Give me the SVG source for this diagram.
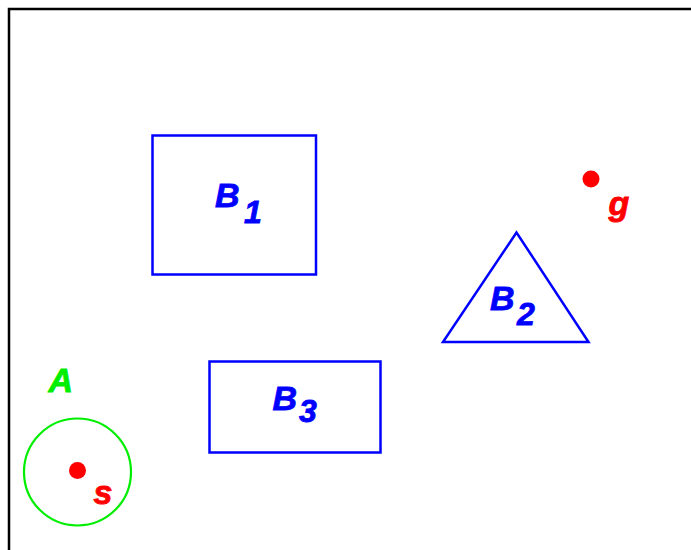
<svg xmlns="http://www.w3.org/2000/svg" width="691" height="550" viewBox="0 0 691 550">
<style>
.lbl{font-family:"Liberation Sans",Arial,sans-serif;font-weight:bold;font-style:italic;font-size:34px;stroke-width:0.8}
.sub{font-size:32px}
.obst{fill:none;stroke:#0000ff;stroke-width:2.5}
.blue{fill:#0000ff;stroke:#0000ff}
.red{fill:#ff0000;stroke:#ff0000}
.green{fill:#00ee00;stroke:#00ee00}
</style>
<rect x="0" y="0" width="691" height="550" fill="#ffffff"/>
<rect x="9" y="9" width="700" height="560" fill="none" stroke="#000000" stroke-width="2.5"/>
<g id="B1">
<rect class="obst" x="152.5" y="135.5" width="163.5" height="139"/>
<text class="lbl blue" x="215" y="206.5">B</text>
<text class="lbl sub blue" x="244" y="223">1</text>
</g>
<g id="B2">
<polygon class="obst" points="516.5,232.5 443,342 588.5,342"/>
<text class="lbl blue" x="490" y="310">B</text>
<text class="lbl sub blue" x="517" y="325">2</text>
</g>
<g id="B3">
<rect class="obst" x="209.5" y="361.5" width="171" height="91"/>
<text class="lbl blue" x="272.5" y="410">B</text>
<text class="lbl sub blue" x="299" y="422">3</text>
</g>
<g id="g">
<circle cx="591" cy="179" r="8.5" fill="#ff0000"/>
<text class="lbl red" x="608.5" y="215">g</text>
</g>
<g id="A">
<circle cx="77.5" cy="472" r="53.5" fill="none" stroke="#00ee00" stroke-width="2.2"/>
<text class="lbl green" x="48.5" y="392">A</text>
</g>
<g id="s">
<circle cx="77.5" cy="470.5" r="8.5" fill="#ff0000"/>
<text class="lbl red" x="93.5" y="504">s</text>
</g>
</svg>
